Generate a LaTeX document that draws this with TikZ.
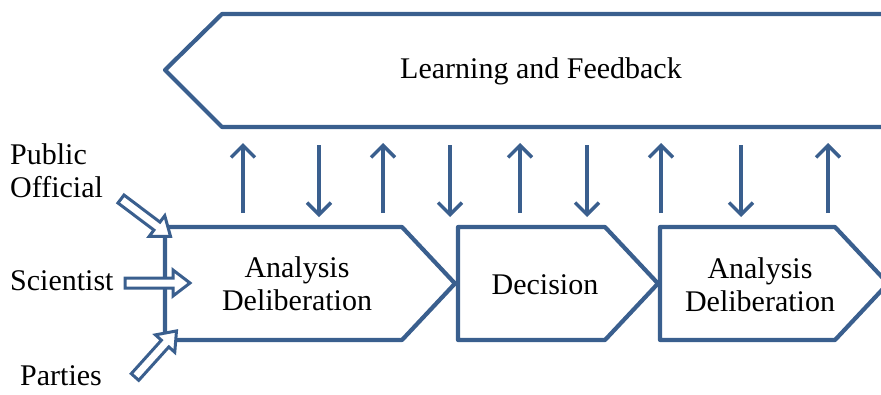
\documentclass[tikz,border=0pt]{standalone}
\usepackage{fontspec}
\setmainfont{Liberation Serif}
\usetikzlibrary{arrows.meta}
\definecolor{frame}{HTML}{3A5F8E}
\begin{document}
\begin{tikzpicture}[>={Straight Barb[length=12pt,width=24pt]}, x=1pt, y=-1pt,
  box/.style={draw=frame, line width=4.2pt, line join=round},
  hollow/.style={draw=frame, fill=white, line width=3pt, line join=miter},
  lbl/.style={font=\fontsize{30}{33}\selectfont, align=center, inner sep=0pt}]
\useasboundingbox (0,0) rectangle (881,394);
\clip (0,0) rectangle (881,394);
% feedback banner, open to the right
\draw[box](900,14)--(222,14)--(165,70)--(222,127)--(900,127);
\node[lbl] (learn) at (541,71) {Learning and Feedback};
% process steps
\draw[box](165,227)--(402,227)--(455,283.5)--(402,340)--(165,340)--cycle;
\draw[box](458,227)--(605,227)--(658,283.5)--(605,340)--(458,340)--cycle;
\draw[box](660,227)--(835,227)--(888,283.5)--(835,340)--(660,340)--cycle;
\node[lbl] (ad1) at (297,284) {Analysis\\Deliberation};
\node[lbl] (dec) at (545,285) {Decision};
\node[lbl] (ad2) at (760,285) {Analysis\\Deliberation};
% exchange with the banner
\foreach \x in {243,383,520,661,828}
  \draw[->, frame, line width=3.5pt](\x,213)--(\x,143);
\foreach \x in {319,450,587,741}
  \draw[->, frame, line width=3.5pt](\x,145)--(\x,217);
% inputs
\node[lbl, anchor=west, align=left] (pub) at (10,171) {Public\\Official};
\node[lbl, anchor=west] (sci) at (10,281) {Scientist};
\node[lbl, anchor=west] (par) at (20,376) {Parties};
\foreach \p/\a/\l in {{(121,199)}/-37/62, {(125,283)}/0/65, {(135,377)}/48/62}
  \draw[hollow, shift=\p, rotate=\a](0,-5)--(\l-17,-5)--(\l-17,-13)--(\l,0)--(\l-17,13)--(\l-17,5)--(0,5)--cycle;
\end{tikzpicture}
\end{document}
